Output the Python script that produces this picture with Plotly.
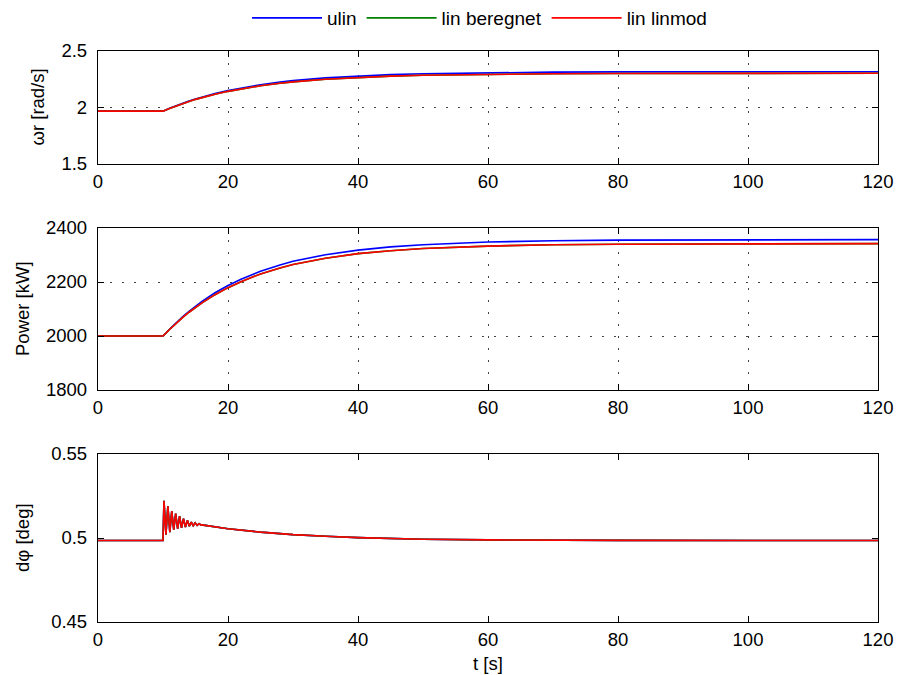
import plotly.graph_objects as go

# ---- data ----
t_main = [0, 10, 11, 12, 13, 14, 15, 16, 18, 20, 22, 25, 28, 30, 35, 40, 45, 50, 60, 70, 80, 90, 100, 120]

wr_ulin = [1.968, 1.968, 1.993, 2.016, 2.037, 2.057, 2.076, 2.093, 2.124, 2.151, 2.174, 2.202, 2.225, 2.238,
           2.262, 2.279, 2.291, 2.299, 2.308, 2.313, 2.315, 2.316, 2.317, 2.317]
wr_beregnet = [1.968, 1.968, 1.992, 2.014, 2.035, 2.054, 2.072, 2.088, 2.118, 2.143, 2.165, 2.193, 2.215, 2.227,
               2.250, 2.267, 2.278, 2.285, 2.294, 2.299, 2.301, 2.302, 2.303, 2.303]
wr_linmod = [1.968, 1.968, 1.992, 2.014, 2.035, 2.054, 2.072, 2.088, 2.118, 2.143, 2.165, 2.193, 2.215, 2.227,
             2.250, 2.267, 2.278, 2.285, 2.294, 2.299, 2.301, 2.302, 2.303, 2.303]

p_ulin = [2000, 2000, 2025, 2049, 2071, 2091, 2111, 2128, 2160, 2187, 2210, 2240, 2263, 2277,
          2301, 2318, 2330, 2338, 2348, 2353, 2355, 2356, 2357, 2357]
p_beregnet = [2000, 2000, 2024, 2047, 2068, 2088, 2106, 2123, 2153, 2179, 2201, 2230, 2252, 2265,
              2288, 2305, 2316, 2324, 2333, 2338, 2340, 2341, 2342, 2342]
p_linmod = [2000, 2000, 2024, 2047, 2068, 2088, 2106, 2123, 2153, 2179, 2201, 2230, 2252, 2265,
            2288, 2305, 2316, 2324, 2333, 2338, 2340, 2341, 2342, 2342]

t_phi = [0, 10.0, 10.15, 10.45, 10.75, 11.05, 11.35, 11.65, 11.95, 12.25, 12.55, 12.85, 13.15, 13.45,
         13.75, 14.05, 14.35, 14.65, 14.95, 15.25, 15.55, 15.85, 16.5, 18, 20, 25, 30, 35, 40, 50,
         60, 80, 120]
phi_ulin = [0.4985, 0.4985, 0.5222, 0.5020, 0.5190, 0.5035, 0.5160, 0.5050, 0.5145, 0.5055, 0.5130,
            0.5060, 0.5115, 0.5065, 0.5105, 0.5070, 0.5095, 0.5073, 0.5090, 0.5075, 0.5085, 0.5078,
            0.5075, 0.5065, 0.5055, 0.5035, 0.5020, 0.5010, 0.5002, 0.4993, 0.4989, 0.4986, 0.4985]
phi_beregnet = phi_ulin[:]
phi_linmod = phi_ulin[:]

series_names = ["ulin", "lin beregnet", "lin linmod"]
series_colors = ["#0000FF", "#008000", "#FF0000"]

y_titles = ["ωr [rad/s]", "Power [kW]", "dφ [deg]"]
y_ranges = [[1.5, 2.5], [1800, 2400], [0.45, 0.55]]
y_ticks = [[1.5, 2, 2.5], [1800, 2000, 2200, 2400], [0.45, 0.5, 0.55]]
y_ticktext = [["1.5", "2", "2.5"], ["1800", "2000", "2200", "2400"], ["0.45", "0.5", "0.55"]]
x_ticks = [0, 20, 40, 60, 80, 100, 120]

# ---- figure ----
W, H = 898, 675
L, R = 98, 20
FS = 18.5
fig = go.Figure()

data_sets = [
    (t_main, [wr_ulin, wr_beregnet, wr_linmod]),
    (t_main, [p_ulin, p_beregnet, p_linmod]),
    (t_phi, [phi_ulin, phi_beregnet, phi_linmod]),
]
for i, (tx, ys) in enumerate(data_sets):
    for j, y in enumerate(ys):
        fig.add_trace(go.Scatter(
            x=tx, y=y, mode="lines", name=series_names[j],
            line=dict(color=series_colors[j], width=1.6),
            showlegend=(i == 0),
            xaxis="x" if i == 0 else f"x{i+1}",
            yaxis="y" if i == 0 else f"y{i+1}",
        ))

# pixel boxes of the three plot areas (top, bottom)
boxes = [(51, 164), (228, 390), (454, 622)]
label_x = [37, 22, 22]
font_family = "Liberation Sans, Arial, Helvetica, sans-serif"
layout = dict(
    width=W, height=H,
    margin=dict(l=L, r=R, t=0, b=0, autoexpand=False),
    paper_bgcolor="white", plot_bgcolor="white",
    font=dict(family=font_family, size=FS, color="black"),
    legend=dict(orientation="h", x=0.534, xanchor="center", y=1 - 18 / H, yanchor="middle",
                yref="container", xref="container",
                itemwidth=70, bgcolor="rgba(0,0,0,0)", font=dict(size=FS + 0.5),
                tracegroupgap=0),
    showlegend=True,
)

for i, (top, bot) in enumerate(boxes):
    sfx = "" if i == 0 else str(i + 1)
    dom = [1 - bot / H, 1 - top / H]
    grid = i < 2
    layout["xaxis" + sfx] = dict(
        domain=[0, 1], range=[0, 120], tickvals=x_ticks,
        anchor="y" + sfx, showgrid=grid, gridcolor="#444", griddash="2px,10px", gridwidth=1,
        showline=True, linecolor="black", linewidth=1.3, mirror="ticks",
        ticks="inside", ticklen=6, tickcolor="black", zeroline=False,
        tickfont=dict(size=FS), automargin=False, ticklabelstandoff=1,
    )
    layout["yaxis" + sfx] = dict(
        domain=dom, range=y_ranges[i], tickvals=y_ticks[i], ticktext=y_ticktext[i],
        anchor="x" + sfx, showgrid=grid, gridcolor="#444", griddash="2px,10px", gridwidth=1,
        showline=True, linecolor="black", linewidth=1.3, mirror="ticks",
        ticks="inside", ticklen=6, tickcolor="black", zeroline=False,
        tickfont=dict(size=FS), automargin=False, ticklabelstandoff=6,
    )

fig.update_layout(**layout)

annotations = []
for i, (top, bot) in enumerate(boxes):
    annotations.append(dict(
        text=y_titles[i], xref="paper", yref="paper",
        x=(label_x[i] - L) / (W - L - R), y=1 - ((top + bot) / 2) / H,
        showarrow=False, textangle=-90, font=dict(size=FS),
        xanchor="center", yanchor="middle",
    ))
annotations.append(dict(
    text="t [s]", xref="paper", yref="paper",
    x=0.5, y=1 - 663 / H, showarrow=False, font=dict(size=FS),
    xanchor="center", yanchor="middle",
))
fig.update_layout(annotations=annotations)

fig.write_html("out.html")
